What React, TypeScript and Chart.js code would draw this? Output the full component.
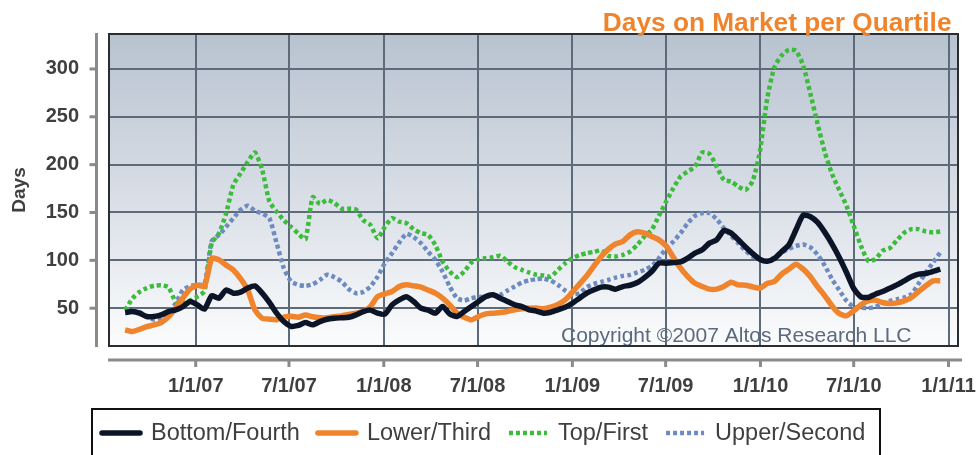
import React, { useEffect, useRef } from "react";
import { Chart, registerables } from "chart.js";

Chart.register(...registerables);

const DAY = 86400000;
const START_DATE = Date.UTC(2006, 7, 17);
const STEP_DAYS = 14;

const seriesLabels = ["Bottom/Fourth", "Lower/Third", "Top/First", "Upper/Second"];

const bottomFourth = [
  45.5, 46.5, 44.8, 41.3, 41.3, 43, 46.5, 48.3, 51.7, 57,
  53.5, 49, 63, 60.5, 69, 65.7, 66.7, 71, 73.3, 65.7,
  56, 44.8, 36, 31, 32, 35, 32.6, 36, 38.5, 39.5,
  40, 40.5, 43, 46.5, 48, 44.8, 43.7, 53.5, 58.7, 62,
  57, 50, 48, 44.8, 51.7, 44, 41.3, 46.5, 51.7, 57,
  62.2, 64, 60.5, 57, 53.5, 51.7, 48.3, 47, 44.8, 45.8,
  48.3, 51, 55.2, 60.5, 65.7, 69.2, 72, 72, 69.9, 72.6,
  74, 76.8, 82, 88.3, 97, 97, 97.7, 98.4, 102.3, 107.5,
  111, 118, 121.4, 131.2, 128.4, 121.4, 114, 107, 101, 99,
  102, 109, 116, 132, 147.3, 145.5, 139.6, 129.2, 117, 103,
  87.3, 70.6, 61.9, 61.2, 64.6, 67.4, 70.9, 74.4, 78.6, 82.8,
  85.6, 86.3, 88.4, 90.8,
];

const lowerThird = [
  27.4, 25.6, 28, 30.8, 32.5, 35, 41, 50, 60.5, 70,
  74, 72.6, 102, 100.5, 95, 90, 81, 69, 48, 39.5,
  38.5, 38, 40.6, 41.5, 40.6, 43, 41, 40, 40, 41,
  42, 43.5, 44.8, 46.5, 51.7, 62.2, 65, 67.4, 72.6, 74.4,
  73.3, 72, 69, 65.7, 60.5, 53.5, 44.8, 40.6, 37.8, 41.3,
  44, 44.8, 45.5, 46.5, 48.3, 49.3, 50, 50.3, 49.3, 51,
  53.8, 58.7, 66.7, 75.4, 84, 94.2, 104, 111.7, 117.2, 119.7,
  126.6, 129.8, 128.4, 125, 121.4, 115, 103.3, 91.8, 83, 76,
  72.6, 69.9, 69.9, 72.6, 77.2, 74.4, 74, 72.3, 70.9, 75.8,
  77.9, 85.6, 90.8, 96, 90.8, 82.8, 72.3, 62.9, 52.4, 44.4,
  42, 47.2, 53.5, 57.7, 58.4, 55.9, 54.9, 55.6, 57.7, 61.2,
  67.4, 73.4, 78.6, 78.6,
];

const topFirst = [
  48, 60, 67, 71, 73.5, 74, 72, 57, 55, 58,
  62, 68, 118, 128, 149, 179, 191, 203, 212.7, 194.6,
  161.5, 151, 142, 135, 128, 122, 166, 159, 163, 160,
  154, 154, 153, 142, 137, 123, 135, 144, 140.4, 138.8,
  132.6, 128.4, 126.6, 116, 98.8, 88.3, 82.4, 88.3, 97.7, 101,
  102.3, 103.3, 104.7, 98.8, 92.9, 90, 87.3, 85, 84.1, 83,
  90, 97, 102.3, 105.4, 107.5, 108.9, 110.3, 104.7, 104, 105.7,
  109.2, 116.2, 125, 131.9, 146.5, 161.5, 175.4, 187.6, 192.8, 198,
  212.7, 211.3, 198, 184, 182.4, 177.2, 173.5, 183, 214, 268.6,
  301.8, 314, 320, 319, 303.5, 273.9, 242.5, 212.8, 190.2, 173.4,
  157, 136.1, 115.2, 99.5, 101.3, 110, 112.8, 121.1, 128.8, 132.6,
  132.6, 130.2, 129.2, 130.2,
];

const upperSecond = [
  49, 48, 46, 41, 38, 40, 46, 55, 69, 73,
  74.5, 75, 120, 126.6, 135, 144, 152.8, 157, 151.7, 149,
  144, 118, 91.8, 77.9, 74.4, 73.3, 75, 79.6, 85, 82.4,
  77.9, 69.9, 65.7, 67, 72.6, 83, 97, 107.5, 118.6, 127.7,
  124.2, 118, 109, 100.5, 88.3, 72.6, 60.5, 58, 60.5, 61.5,
  62.2, 62.9, 64, 68.5, 72.6, 76.8, 79, 80.3, 81, 78.9,
  74.4, 68.5, 64.6, 65.7, 72, 75.4, 77.5, 79.6, 82, 83.8,
  84.8, 87.3, 90, 94.2, 102.3, 112.7, 119.7, 128.4, 138.8, 146.5,
  149.3, 149.3, 143, 133.6, 125.6, 118, 110, 104, 101, 99,
  103, 108, 112, 115, 116.5, 113.5, 105.8, 94.3, 80.3, 68.8,
  57.7, 51.4, 50.7, 50, 51.4, 54.9, 57.7, 59.4, 61.2, 64.6,
  75.8, 87.3, 97.8, 108.2,
];

const xTickDates = [
  Date.UTC(2007, 0, 1), Date.UTC(2007, 6, 1), Date.UTC(2008, 0, 1),
  Date.UTC(2008, 6, 1), Date.UTC(2009, 0, 1), Date.UTC(2009, 6, 1),
  Date.UTC(2010, 0, 1), Date.UTC(2010, 6, 1), Date.UTC(2011, 0, 1),
];
const xTickLabels = ["1/1/07", "7/1/07", "1/1/08", "7/1/08", "1/1/09", "7/1/09", "1/1/10", "7/1/10", "1/1/11"];
const yTickValues = [50, 100, 150, 200, 250, 300];

const X_MIN = Date.UTC(2007, 0, 1) - 168.3 * DAY;
const X_MAX = Date.UTC(2011, 0, 1) + 18.4 * DAY;
const Y_MIN = 10.5;
const Y_MAX = 336.5;

const FONT = '"Liberation Sans", Arial, Helvetica, sans-serif';
const GRID = "#5d6a79";
const AXIS_GRAY = "#8a8a8a";
const TEXT = "#3f3f3f";

const colors = ["#0b1527", "#f0842c", "#3dbb3d", "#6d8bc0"];
const widths = [5.5, 5.5, 4.5, 4.5];
const dashes: number[][] = [[], [], [4, 3], [4, 3]];

function toPoints(values: number[]) {
  return values.map((v, i) => ({ x: START_DATE + i * STEP_DAYS * DAY, y: v }));
}

const zeroPad = () => ({ left: 0, top: 0, right: 0, bottom: 0 });

const decorPlugin = {
  id: "decor",
  beforeDraw(chart: any) {
    const { ctx, chartArea: a } = chart;
    ctx.save();
    const g = ctx.createLinearGradient(0, a.top, 0, a.bottom);
    g.addColorStop(0, "#b8c3d0");
    g.addColorStop(0.45, "#d4dae3");
    g.addColorStop(1, "#fbfcfd");
    ctx.fillStyle = g;
    ctx.fillRect(a.left, a.top, a.right - a.left, a.bottom - a.top);
    ctx.restore();
  },
  beforeDatasetsDraw(chart: any) {
    const { ctx } = chart;
    ctx.save();
    ctx.font = `21px ${FONT}`;
    ctx.fillStyle = "#5b6a7e";
    ctx.textAlign = "left";
    ctx.textBaseline = "alphabetic";
    ctx.fillText("Copyright \u00a92007 Altos Research LLC", 561, 341.5);
    ctx.restore();
  },
  afterDraw(chart: any) {
    const { ctx, chartArea: a, scales } = chart;
    ctx.save();
    ctx.strokeStyle = "#2a2e33";
    ctx.lineWidth = 2;
    ctx.strokeRect(a.left, a.top, a.right - a.left, a.bottom - a.top);

    ctx.strokeStyle = AXIS_GRAY;
    ctx.lineWidth = 3;
    ctx.beginPath();
    ctx.moveTo(96.5, a.top - 1);
    ctx.lineTo(96.5, a.bottom + 1);
    ctx.stroke();
    for (const v of yTickValues) {
      const y = scales.y.getPixelForValue(v);
      ctx.beginPath();
      ctx.moveTo(89.5, y);
      ctx.lineTo(96.5, y);
      ctx.stroke();
    }
    ctx.beginPath();
    ctx.moveTo(a.left - 1, 360);
    ctx.lineTo(a.right + 4, 360);
    ctx.stroke();
    for (const v of xTickDates) {
      const x = scales.x.getPixelForValue(v);
      ctx.beginPath();
      ctx.moveTo(x, 360);
      ctx.lineTo(x, 367);
      ctx.stroke();
    }

    ctx.save();
    ctx.font = `bold 25px ${FONT}`;
    ctx.fillStyle = "#f0842c";
    ctx.textAlign = "right";
    ctx.textBaseline = "alphabetic";
    ctx.translate(951.5, 30.5);
    ctx.scale(1.05, 1);
    ctx.fillText("Days on Market per Quartile", 0, 0);
    ctx.restore();

    ctx.strokeStyle = "#111111";
    ctx.lineWidth = 2;
    ctx.strokeRect(92, 409, 788, 60);
    ctx.font = `23.5px ${FONT}`;
    ctx.textBaseline = "middle";
    ctx.textAlign = "left";
    let x = 100;
    const ly = 433;
    chart.data.datasets.forEach((ds: any) => {
      ctx.save();
      ctx.strokeStyle = ds.borderColor;
      ctx.lineWidth = ds.borderWidth;
      ctx.setLineDash(ds.borderDash || []);
      ctx.lineCap = ds.borderDash && ds.borderDash.length ? "butt" : "round";
      ctx.beginPath();
      ctx.moveTo(x + 2, ly);
      ctx.lineTo(x + 40, ly);
      ctx.stroke();
      ctx.restore();
      ctx.fillStyle = TEXT;
      ctx.fillText(ds.label, x + 51, ly + 1);
      x = x + 51 + ctx.measureText(ds.label).width + 16;
    });
    ctx.restore();
  },
};

export default function App() {
  const canvasRef = useRef<HTMLCanvasElement | null>(null);

  useEffect(() => {
    const canvas = canvasRef.current;
    if (!canvas) return;
    const allSeries = [bottomFourth, lowerThird, topFirst, upperSecond];
    const chart = new Chart(canvas, {
      type: "line",
      data: {
        datasets: allSeries.map((vals, i) => ({
          label: seriesLabels[i],
          data: toPoints(vals),
          borderColor: colors[i],
          backgroundColor: colors[i],
          borderWidth: widths[i],
          borderDash: dashes[i],
          borderJoinStyle: "round",
          borderCapStyle: "butt",
          pointRadius: 0,
          pointHoverRadius: 0,
          tension: 0.2,
          fill: false,
        })),
      },
      options: {
        animation: false,
        responsive: false,
        devicePixelRatio: 1,
        events: [],
        layout: { autoPadding: false, padding: { top: 34, left: 0, right: 18, bottom: 0 } },
        plugins: {
          legend: { display: false },
          title: { display: false },
          tooltip: { enabled: false },
        },
        scales: {
          x: {
            type: "linear",
            min: X_MIN,
            max: X_MAX,
            afterBuildTicks: (s: any) => {
              s.ticks = xTickDates.map((v) => ({ value: v }));
            },
            afterFit: (s: any) => {
              s.height = 109;
              s.paddingLeft = 0;
              s.paddingRight = 0;
              s.paddingTop = 0;
              s.paddingBottom = 0;
              s.getPadding = zeroPad;
            },
            grid: { color: GRID, lineWidth: 2, drawTicks: false },
            border: { display: false },
            ticks: {
              autoSkip: false,
              maxRotation: 0,
              minRotation: 0,
              padding: 28,
              color: TEXT,
              font: { family: FONT, size: 20, weight: "bold" },
              callback: (_v: any, i: number) => xTickLabels[i],
            },
          },
          y: {
            type: "linear",
            min: Y_MIN,
            max: Y_MAX,
            afterBuildTicks: (s: any) => {
              s.ticks = yTickValues.map((v) => ({ value: v }));
            },
            afterFit: (s: any) => {
              s.width = 109;
              s.paddingLeft = 0;
              s.paddingRight = 0;
              s.paddingTop = 0;
              s.paddingBottom = 0;
              s.getPadding = zeroPad;
            },
            grid: { color: GRID, lineWidth: 2, drawTicks: false },
            border: { display: false },
            ticks: {
              padding: 30,
              color: TEXT,
              font: { family: FONT, size: 20, weight: "bold" },
              callback: (v: any) => String(v),
            },
            title: {
              display: true,
              text: "Days",
              color: TEXT,
              font: { family: FONT, size: 19, weight: "bold" },
              padding: { top: 8, bottom: 0 },
            },
          },
        },
      },
      plugins: [decorPlugin],
    } as any);
    return () => chart.destroy();
  }, []);

  return (
    <div style={{ position: "fixed", left: 0, top: 0, width: 976, height: 455, background: "#ffffff" }}>
      <canvas ref={canvasRef} width={976} height={455} style={{ display: "block", width: 976, height: 455 }} />
    </div>
  );
}
